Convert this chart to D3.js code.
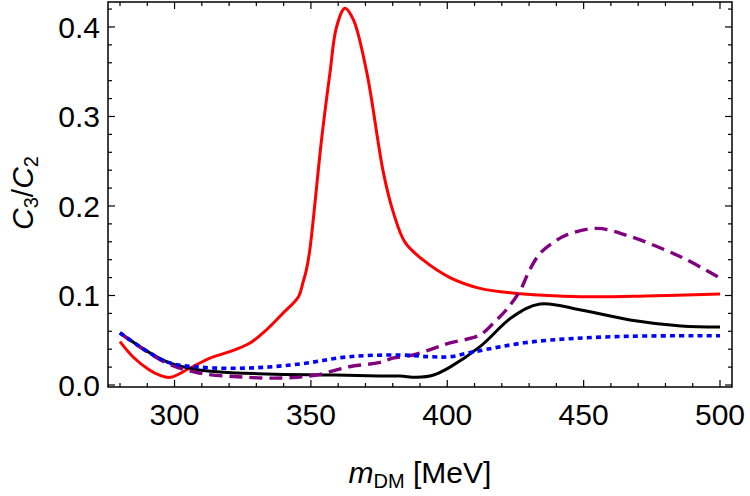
<!DOCTYPE html>
<html><head><meta charset="utf-8">
<script src="https://cdn.jsdelivr.net/npm/d3@7"></script>
<style>body{margin:0;background:#fff}svg{display:block}text{font-family:"Liberation Sans",Arial,Helvetica,sans-serif;fill:#000}</style>
</head><body><svg id="c" width="750" height="496"></svg>
<script>
// Data (m_DM in MeV, C3/C2)
const redM   = [280,284.7,290.8,294.5,298.5,305.5,312.8,320.2,327.5,333.6,339.7,345.5,347,348.3,349.6,353.9,357,359.4,362.5,365.6,370.5,376.6,380.3,384.6,391,401,412,426.8,449,473,500];
const redV   = [0.0484,0.0316,0.0168,0.011,0.0086,0.0187,0.0298,0.0372,0.0466,0.0614,0.080,0.099,0.1136,0.128,0.151,0.274,0.349,0.400,0.421,0.408,0.349,0.237,0.192,0.159,0.140,0.120,0.108,0.102,0.0987,0.0994,0.1017];
const purM   = [280,297,309,325,339.7,352,364,375,380,387.5,395,401,412,418,421.6,426.8,430.2,434,438.6,444,455,467,485.7,500];
const purV   = [0.058,0.0246,0.0134,0.0089,0.0078,0.0112,0.0204,0.025,0.030,0.0335,0.041,0.047,0.056,0.0726,0.0838,0.106,0.1285,0.147,0.1587,0.168,0.175,0.166,0.143,0.1196];
const blkM   = [280,297,309,333.7,358,375,382.7,388.8,395,401,412,424,434,449,467,485.7,500];
const blkV   = [0.058,0.026,0.0168,0.0123,0.0112,0.010,0.010,0.0086,0.0112,0.020,0.0428,0.0763,0.0905,0.0838,0.0726,0.0659,0.0648];
const bluM   = [280,297,309,327.6,346,364,382.7,393.7,401,409.6,430.5,461,500];
const bluV   = [0.0584,0.026,0.020,0.019,0.0235,0.0316,0.0335,0.0316,0.0316,0.037,0.048,0.054,0.055];
const xTickLabels = [300,350,400,450,500];
const yTickLabels = [0.0,0.1,0.2,0.3,0.4];

const svg = d3.select("#c");
const L=108,R=732,T=2,B=387;
const x = d3.scaleLinear().domain([275.6,504.4]).range([L,R]);
const y = d3.scaleLinear().domain([-0.00223,0.4279]).range([B,T]);

const clip = svg.append("defs").append("clipPath").attr("id","clp");
clip.append("rect").attr("x",L).attr("y",T).attr("width",R-L).attr("height",B-T);

const line = d3.line().x(d=>x(d[0])).y(d=>y(d[1])).curve(d3.curveCatmullRom.alpha(0.5));
const zip=(a,b)=>a.map((v,i)=>[v,b[i]]);
const g = svg.append("g").attr("clip-path","url(#clp)");
const series = [
  {m:bluM,v:bluV,c:"#0000ff",w:3.6,dash:"5,4.2"},
  {m:purM,v:purV,c:"#800080",w:3.4,dash:"13,7"},
  {m:blkM,v:blkV,c:"#000000",w:3,dash:null},
  {m:redM,v:redV,c:"#ff0000",w:3,dash:null}
];
[series[3],series[2],series[1],series[0]].forEach(s=>{
  g.append("path").attr("d",line(zip(s.m,s.v))).attr("fill","none")
   .attr("stroke",s.c).attr("stroke-width",s.w)
   .attr("stroke-dasharray",s.dash).attr("stroke-linejoin","round");
});

// frame
svg.append("rect").attr("x",L).attr("y",T).attr("width",R-L).attr("height",B-T)
  .attr("fill","none").attr("stroke","#000").attr("stroke-width",1.5);

// ticks
const xMinor = d3.range(280,501,10);
const yMinor = d3.range(0,0.4201,0.02);
const tk = svg.append("g").attr("stroke","#000").attr("stroke-width",1.2);
xMinor.forEach(v=>{
  const major = xTickLabels.includes(Math.round(v));
  const len = major?7:4;
  tk.append("line").attr("x1",x(v)).attr("x2",x(v)).attr("y1",B).attr("y2",B-len);
  tk.append("line").attr("x1",x(v)).attr("x2",x(v)).attr("y1",T).attr("y2",T+len);
});
yMinor.forEach(v=>{
  const major = Math.abs(v*10-Math.round(v*10))<1e-6;
  const len = major?7:4;
  tk.append("line").attr("x1",L).attr("x2",L+len).attr("y1",y(v)).attr("y2",y(v));
  tk.append("line").attr("x1",R).attr("x2",R-len).attr("y1",y(v)).attr("y2",y(v));
});

// tick labels
xTickLabels.forEach(v=>{
  svg.append("text").attr("x",x(v)).attr("y",425).attr("text-anchor","middle")
    .attr("font-size",30).text(v);
});
yTickLabels.forEach(v=>{
  svg.append("text").attr("x",100).attr("y",y(v)+11).attr("text-anchor","end")
    .attr("font-size",30).text(d3.format(".1f")(v));
});

// axis titles
const xt = svg.append("text").attr("x",420).attr("y",483).attr("text-anchor","middle").attr("font-size",30);
xt.append("tspan").attr("font-style","italic").text("m");
xt.append("tspan").attr("font-size",20).attr("dy",5).text("DM");
xt.append("tspan").attr("dy",-5).text(" [MeV]");

const yt = svg.append("text").attr("transform","translate(33,193) rotate(-90)").attr("text-anchor","middle").attr("font-size",30);
yt.append("tspan").attr("font-style","italic").text("C");
yt.append("tspan").attr("font-size",20).attr("dy",5).text("3");
yt.append("tspan").attr("dy",-5).text("/");
yt.append("tspan").attr("font-style","italic").text("C");
yt.append("tspan").attr("font-size",20).attr("dy",5).text("2");
</script></body></html>
